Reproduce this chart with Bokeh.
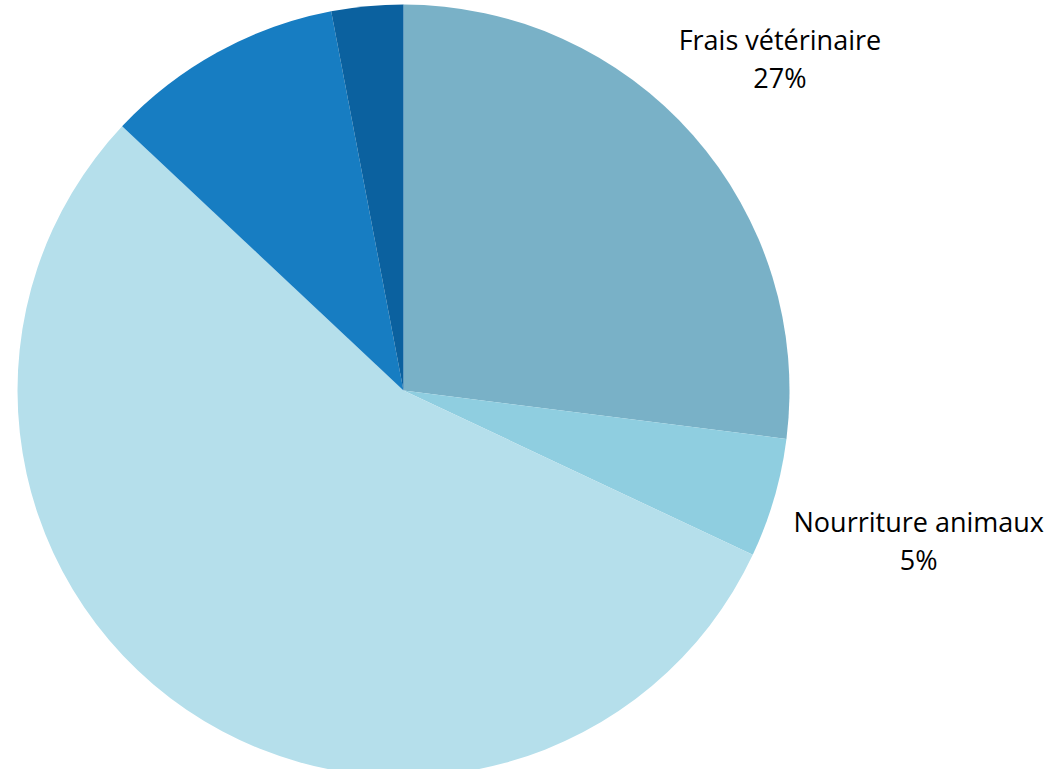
import math
from bokeh.plotting import figure
from bokeh.models import Range1d, ColumnDataSource
from bokeh.core.properties import value
from bokeh.embed import file_html
from bokeh.resources import INLINE

categories = ["Frais vétérinaire", "Nourriture animaux", "Autres", "Divers", "Accessoires"]
shares = [27, 5, 55, 10, 3]
colors = ["#79B1C7", "#8FCEE0", "#B5DFEB", "#177DC2", "#0B619F"]
show_label = [True, True, False, False, False]
label_dist = [1.30, 1.39, 0, 0, 0]

W, H = 1044, 769
cx, cy, R = 403, 777 - 390, 386

p = figure(width=W, height=H, output_backend="svg", toolbar_location=None,
           x_range=Range1d(0, W), y_range=Range1d(777 - H, 777),
           min_border=0)
p.axis.visible = False
p.grid.visible = False
p.outline_line_color = None
p.background_fill_color = "white"

total = sum(shares)
starts, ends, mids = [], [], []
cum = 0
for s in shares:
    a0 = math.pi / 2 - 2 * math.pi * cum / total
    cum += s
    a1 = math.pi / 2 - 2 * math.pi * cum / total
    starts.append(a0)
    ends.append(a1)
    mids.append((a0 + a1) / 2)

src = ColumnDataSource(dict(start=starts, end=ends, color=colors))
p.wedge(x=cx, y=cy, radius=R, start_angle="start", end_angle="end",
        direction="clock", fill_color="color", line_color=None, source=src)

lx, ly1, ly2, t1, t2 = [], [], [], [], []
for i, c in enumerate(categories):
    if not show_label[i]:
        continue
    d = R * label_dist[i]
    x = cx + d * math.cos(mids[i])
    y = cy + d * math.sin(mids[i])
    lx.append(x)
    ly1.append(y + 19)
    ly2.append(y - 19)
    t1.append(c)
    t2.append(f"{shares[i]}%")

p.text(x=lx, y=ly1, text=t1, text_align="center", text_baseline="middle",
       text_font=value("Open Sans"), text_font_size="27px", text_color="#000000")
p.text(x=lx, y=ly2, text=t2, text_align="center", text_baseline="middle",
       text_font=value("Open Sans"), text_font_size="27px", text_color="#000000")

open("out.html", "w").write(file_html(p, INLINE))
